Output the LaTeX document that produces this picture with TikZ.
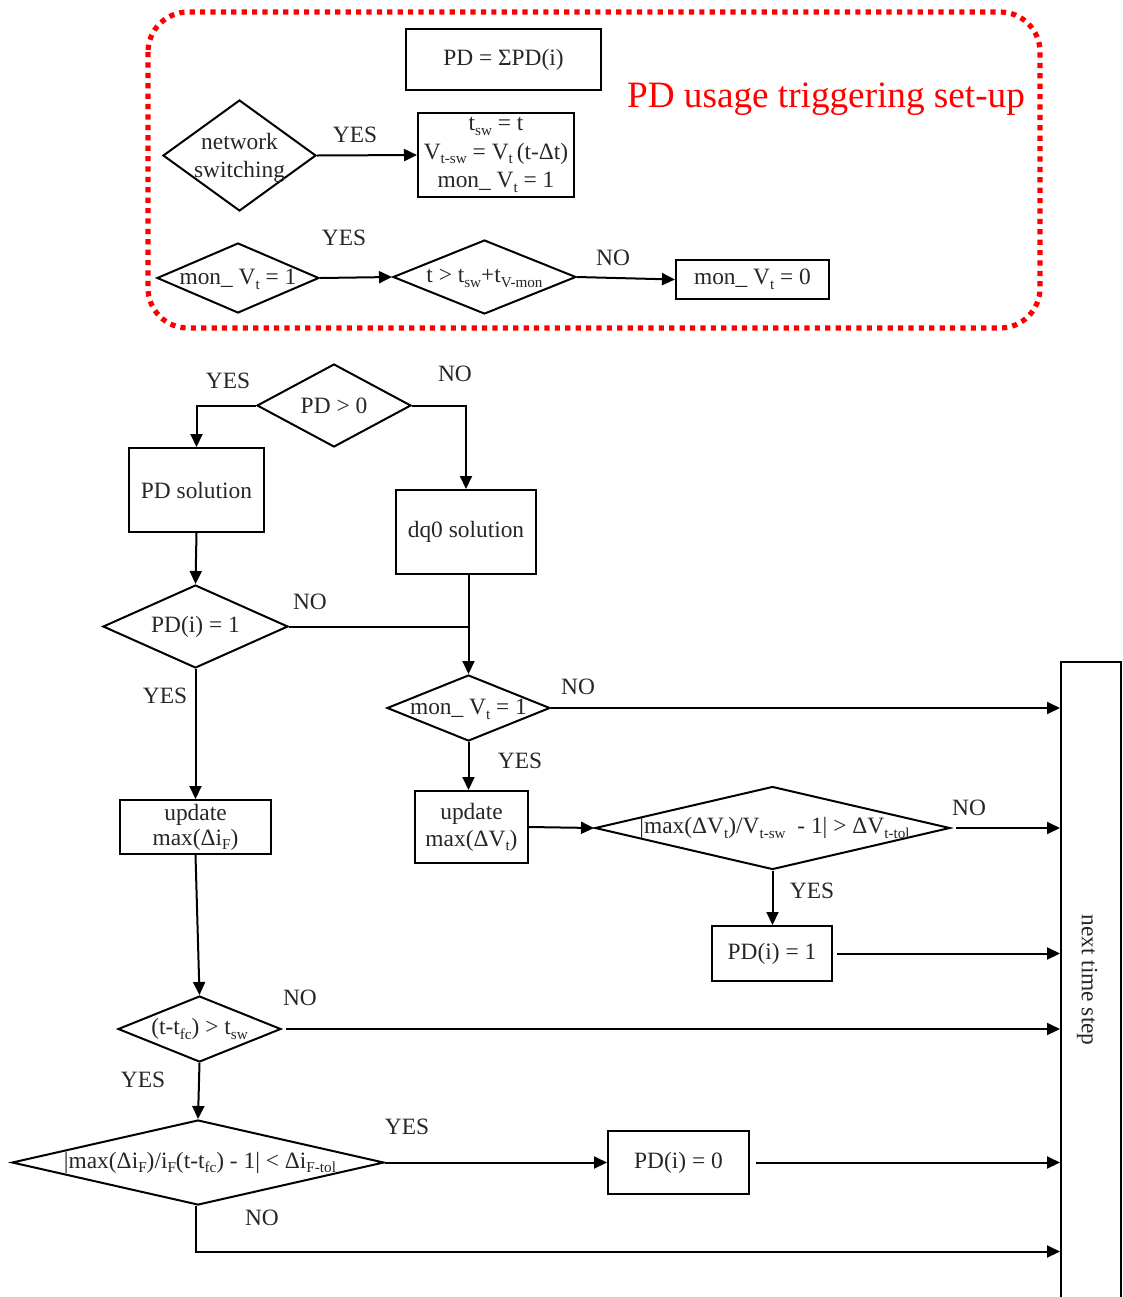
\documentclass[tikz,border=0pt]{standalone}
\usepackage{fontspec}
\setmainfont{Liberation Serif}
\usetikzlibrary{shapes.geometric,arrows.meta}

% lowered small text for indices
\newcommand\sbs[1]{\raisebox{-0.45ex}{\fontsize{7.6}{8}\selectfont #1}}

\tikzset{
  every node/.style={font=\fontsize{11.7}{13.2}\selectfont, text=black!85},
  box/.style={draw, line width=1pt, inner sep=1pt, align=center},
  dia/.style={draw, diamond, line width=1pt, inner sep=0pt},
  lbl/.style={inner sep=0pt},
  ln/.style={line width=1pt},
  arr/.style={line width=1pt, -{Triangle[length=6.5pt,width=6pt]}},
  setupframe/.style={draw=red, line width=2.6pt, dash pattern=on 2.6pt off 2.6pt, rounded corners=20pt}
}

\begin{document}
\begin{tikzpicture}[x=0.5pt,y=-0.5pt]
\useasboundingbox (0,0) rectangle (1123,1297);

% ---------- set-up block ----------
\draw[setupframe] (148,12) rectangle (1040,328);
\node[lbl, text=red, font=\fontsize{18.6}{20}\selectfont] (title) at (826,99) {PD usage triggering set-up};

\node[box, minimum width=97.5pt, minimum height=30.5pt] (pdsum) at (503.5,59.5) {PD = ΣPD(i)};

\node[dia, minimum width=76.5pt, minimum height=55.5pt] (netsw) at (239.5,155.5) {};
\node[lbl, align=center, font=\fontsize{11.7}{14}\selectfont] at ([yshift=-1pt]netsw) {network\\switching};

\node[box, minimum width=78pt, minimum height=42pt, font=\fontsize{11.7}{14.4}\selectfont] (tsw) at (496,155)
  {t\sbs{sw} = t\\V\sbs{t-sw} = V\sbs{t}\,(t-Δt)\\mon\_ V\sbs{t} = 1};

\node[dia, minimum width=81pt, minimum height=35pt] (monA) at (238,278) {};
\node[lbl] at ([yshift=-0.5pt]monA) {mon\_ V\sbs{t} = 1};

\node[dia, minimum width=91.5pt, minimum height=37pt] (tcond) at (484.5,277) {};
\node[lbl] at ([yshift=-0.5pt]tcond) {t > t\sbs{sw}+t\sbs{V-mon}};

\node[box, minimum width=76.5pt, minimum height=19.5pt] (mon0) at (752.5,279.5) {mon\_ V\sbs{t} = 0};

\draw[arr] (netsw.east) -- (tsw.west);
\draw[arr] (monA.east) -- (tcond.west);
\draw[arr] (tcond.east) -- (mon0.west);
\node[lbl] at (355,135) {YES};
\node[lbl] at (344,238) {YES};
\node[lbl] at (613,258) {NO};

% ---------- main flow ----------
\node[dia, minimum width=77pt, minimum height=41.5pt] (pdpos) at (334,405.5) {};
\node[lbl] at (pdpos) {PD > 0};

\node[box, minimum width=67.5pt, minimum height=42pt] (pdsol) at (196.5,490) {PD solution};
\node[box, minimum width=70pt, minimum height=42pt] (dq0) at (466,532) {dq0 solution};

\node[dia, minimum width=92.5pt, minimum height=41.5pt] (pdi1) at (195.5,626.5) {};
\node[lbl] at (pdi1) {PD(i) = 1};

\node[dia, minimum width=81.5pt, minimum height=33pt] (monB) at (468.5,708) {};
\node[lbl] at ([yshift=-0.5pt]monB) {mon\_ V\sbs{t} = 1};

\node[box, minimum width=56.5pt, minimum height=36pt, font=\fontsize{11.7}{13.5}\selectfont] (updV) at (471.5,827) {update\\max(ΔV\sbs{t})};

\node[dia, minimum width=177.5pt, minimum height=41.5pt] (vcond) at (772.5,828) {};
\node[lbl] at ([xshift=1pt]vcond) {|max(ΔV\sbs{t})/V\sbs{t-sw}~~- 1| > ΔV\sbs{t-tol}};

\node[box, minimum width=60pt, minimum height=27.5pt] (pd1) at (772,953.5) {PD(i) = 1};

\node[box, minimum width=75.5pt, minimum height=27pt, font=\fontsize{11.7}{12.5}\selectfont] (updI) at (195.5,827) {update\\max(Δi\sbs{F})};

\node[dia, minimum width=81.5pt, minimum height=33pt] (tfc) at (199.5,1029) {};
\node[lbl] at (tfc) {(t-t\sbs{fc}) > t\sbs{sw}};

\node[dia, minimum width=186pt, minimum height=42.5pt] (icond) at (198,1162.5) {};
\node[lbl] at ([xshift=1pt]icond) {|max(Δi\sbs{F})/i\sbs{F}(t-t\sbs{fc}) - 1| < Δi\sbs{F-tol}};

\node[box, minimum width=70.5pt, minimum height=31.5pt] (pd0) at (678.5,1162.5) {PD(i) = 0};

% next time step column (runs past the lower edge)
\node[draw, line width=1pt, minimum width=30pt, minimum height=330pt, anchor=north west, inner sep=0pt] (nts) at (1060,661) {};
\node[lbl, rotate=-90] at (1087,980) {next time step};

% connectors
\draw[arr] (pdpos.west) -| (pdsol.north);
\draw[arr] (pdpos.east) -| (dq0.north);
\draw[arr] (pdsol.south) -- (pdi1.north);
\draw[arr] (dq0.south -| monB.north) -- (monB.north);
\draw[ln] (pdi1.east) -- (pdi1.east -| monB.north);
\draw[arr] (monB.east) -- (monB.east -| nts.west);
\draw[arr] (monB.south) -- (monB.south |- updV.north);
\draw[arr] (updV.east) -- (vcond.west);
\draw[arr] ([xshift=2.5pt]vcond.east) -- (vcond.east -| nts.west);
\draw[arr] (vcond.south) -- (vcond.south |- pd1.north);
\draw[arr] ([xshift=2pt]pd1.east) -- (pd1.east -| nts.west);
\draw[arr] (pdi1.south) -- (pdi1.south |- updI.north);
\draw[arr] (updI.south) -- (tfc.north);
\draw[arr] ([xshift=2pt]tfc.east) -- (tfc.east -| nts.west);
\draw[arr] (tfc.south) -- (icond.north);
\draw[arr] (icond.east) -- (pd0.west);
\draw[arr] ([xshift=3pt]pd0.east) -- (pd0.east -| nts.west);
\coordinate (nocorner) at (196,1251.5);
\draw[arr] (icond.south -| nocorner) -- (nocorner) -- (nocorner -| nts.west);

% branch labels
\node[lbl] at (228,381) {YES};
\node[lbl] at (455,374) {NO};
\node[lbl] at (310,602) {NO};
\node[lbl] at (165,696) {YES};
\node[lbl] at (578,687) {NO};
\node[lbl] at (520,761) {YES};
\node[lbl] at (969,808) {NO};
\node[lbl] at (812,891) {YES};
\node[lbl] at (300,998) {NO};
\node[lbl] at (143,1080) {YES};
\node[lbl] at (407,1127) {YES};
\node[lbl] at (262,1218) {NO};
\end{tikzpicture}
\end{document}
